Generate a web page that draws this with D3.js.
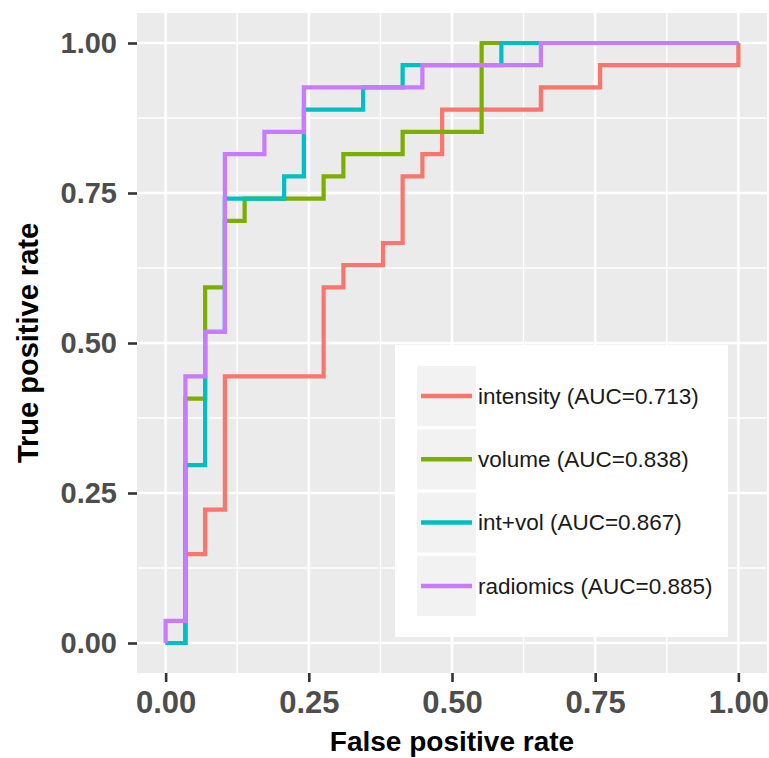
<!DOCTYPE html>
<html>
<head>
<meta charset="utf-8">
<script src="https://cdn.jsdelivr.net/npm/d3@7"></script>
<style>
  body { margin: 0; background: #fff; }
  svg { display: block; font-family: "Liberation Sans", Arial, sans-serif; }
</style>
</head>
<body>
<div id="chart"></div>
<script>
// counts of false / true positives at each step (29 negatives, 27 positives)
const nNeg = 29;
const nPos = 27;

const intensityFP = [0, 1, 2, 3, 8, 9, 11, 12, 13, 14, 19, 22, 29];
const intensityTP = [0, 4, 6, 12, 16, 17, 18, 21, 22, 24, 25, 26, 27];

const volumeFP = [0, 1, 2, 3, 4, 8, 9, 12, 16, 29];
const volumeTP = [0, 11, 16, 19, 20, 21, 22, 23, 27, 27];

const intvolFP = [0, 1, 2, 3, 6, 7, 10, 12, 17, 29];
const intvolTP = [0, 8, 14, 20, 21, 24, 25, 26, 27, 27];

const radiomicsFP = [0, 0, 1, 2, 3, 5, 7, 13, 19, 29];
const radiomicsTP = [0, 1, 12, 14, 22, 23, 25, 26, 27, 27];

const seriesNames = ["intensity (AUC=0.713)", "volume (AUC=0.838)", "int+vol (AUC=0.867)", "radiomics (AUC=0.885)"];
const seriesColors = ["#F8766D", "#7CAE00", "#00BFC4", "#C77CFF"];
const tickValues = [0, 0.25, 0.5, 0.75, 1];
const minorValues = [0.125, 0.375, 0.625, 0.875];

const series = [
    [intensityFP, intensityTP],
    [volumeFP, volumeTP],
    [intvolFP, intvolTP],
    [radiomicsFP, radiomicsTP]
].map((s, k) => ({
    name: seriesNames[k],
    color: seriesColors[k],
    points: s[0].map((fp, i) => ({ x: fp / nNeg, y: s[1][i] / nPos }))
}));

const width = 769, height = 758;
const panel = { left: 137, right: 767, top: 13, bottom: 673 };

const svg = d3.select("#chart").append("svg")
    .attr("width", width)
    .attr("height", height);

const x = d3.scaleLinear().domain([-0.05, 1.05]).range([panel.left, panel.right]);
const y = d3.scaleLinear().domain([-0.05, 1.05]).range([panel.bottom, panel.top]);

// panel background
svg.append("rect")
    .attr("x", panel.left).attr("y", panel.top)
    .attr("width", panel.right - panel.left)
    .attr("height", panel.bottom - panel.top)
    .attr("fill", "#EBEBEB");

// grid lines
const grid = svg.append("g");
grid.selectAll(".vminor").data(minorValues).join("line")
    .attr("x1", d => x(d)).attr("x2", d => x(d))
    .attr("y1", panel.top).attr("y2", panel.bottom)
    .attr("stroke", "#fff").attr("stroke-width", 1.4);
grid.selectAll(".hminor").data(minorValues).join("line")
    .attr("y1", d => y(d)).attr("y2", d => y(d))
    .attr("x1", panel.left).attr("x2", panel.right)
    .attr("stroke", "#fff").attr("stroke-width", 1.4);
grid.selectAll(".vmajor").data(tickValues).join("line")
    .attr("x1", d => x(d)).attr("x2", d => x(d))
    .attr("y1", panel.top).attr("y2", panel.bottom)
    .attr("stroke", "#fff").attr("stroke-width", 2.6);
grid.selectAll(".hmajor").data(tickValues).join("line")
    .attr("y1", d => y(d)).attr("y2", d => y(d))
    .attr("x1", panel.left).attr("x2", panel.right)
    .attr("stroke", "#fff").attr("stroke-width", 2.6);

// curves
const line = d3.line()
    .x(d => x(d.x))
    .y(d => y(d.y))
    .curve(d3.curveStepAfter);

svg.append("g").selectAll("path").data(series).join("path")
    .attr("d", d => line(d.points))
    .attr("fill", "none")
    .attr("stroke", d => d.color)
    .attr("stroke-width", 4.2);

// axes
const xAxis = d3.axisBottom(x).tickValues(tickValues).tickFormat(d3.format(".2f"))
    .tickSize(9).tickPadding(4);
const yAxis = d3.axisLeft(y).tickValues(tickValues).tickFormat(d3.format(".2f"))
    .tickSize(9).tickPadding(8);

const gx = svg.append("g")
    .attr("transform", `translate(0,${panel.bottom})`)
    .call(xAxis);
gx.select(".domain").remove();
gx.selectAll(".tick line").attr("stroke", "#333").attr("stroke-width", 2.6);
gx.selectAll(".tick text")
    .attr("fill", "#4D4D4D")
    .attr("font-size", 31)
    .attr("font-weight", "bold")
    .attr("dy", "0.71em")
    .attr("y", 18);

const gy = svg.append("g")
    .attr("transform", `translate(${panel.left},0)`)
    .call(yAxis);
gy.select(".domain").remove();
gy.selectAll(".tick line").attr("stroke", "#333").attr("stroke-width", 2.6);
gy.selectAll(".tick text")
    .attr("fill", "#4D4D4D")
    .attr("font-size", 29)
    .attr("font-weight", "bold")
    .attr("x", -20);

// axis titles
svg.append("text")
    .attr("x", (panel.left + panel.right) / 2)
    .attr("y", 751)
    .attr("text-anchor", "middle")
    .attr("font-size", 28)
    .attr("font-weight", "bold")
    .attr("fill", "#000")
    .text("False positive rate");

svg.append("text")
    .attr("transform", `translate(38,${(panel.top + panel.bottom) / 2}) rotate(-90)`)
    .attr("text-anchor", "middle")
    .attr("font-size", 29)
    .attr("font-weight", "bold")
    .attr("fill", "#000")
    .text("True positive rate");

// legend
const legend = svg.append("g").attr("transform", "translate(395,345)");
legend.append("rect")
    .attr("width", 333).attr("height", 292)
    .attr("fill", "#fff");

const keys = legend.selectAll(".key").data(series).join("g")
    .attr("transform", (d, i) => `translate(22,${21 + i * 63.3})`);
keys.append("rect")
    .attr("width", 59).attr("height", 60)
    .attr("fill", "#F2F2F2");
keys.append("line")
    .attr("x1", 4).attr("x2", 55)
    .attr("y1", 30).attr("y2", 30)
    .attr("stroke", d => d.color)
    .attr("stroke-width", 4.5);
keys.append("text")
    .attr("x", 61).attr("y", 30)
    .attr("dy", "0.35em")
    .attr("font-size", 22.5)
    .attr("fill", "#1a1a1a")
    .text(d => d.name);
</script>
</body>
</html>
